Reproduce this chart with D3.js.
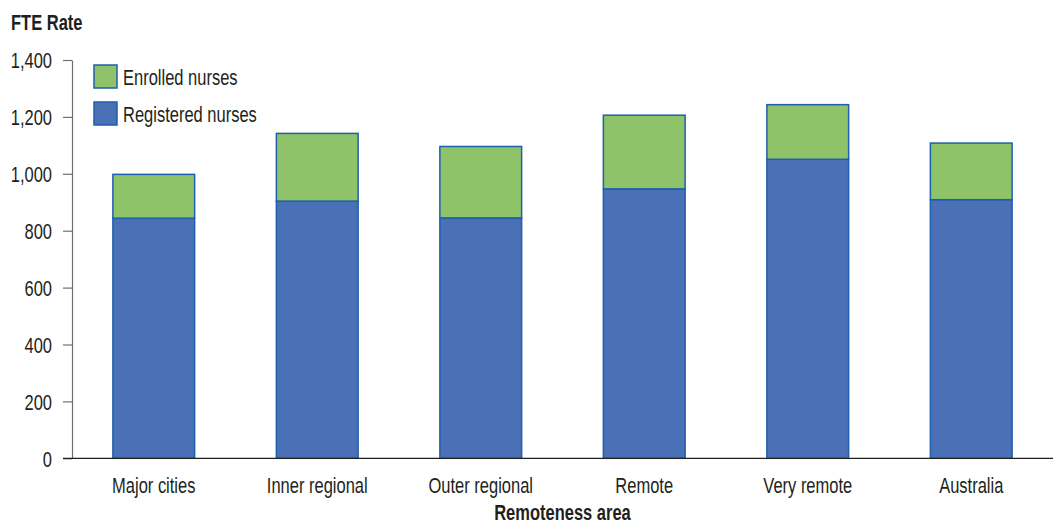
<!DOCTYPE html>
<html>
<head>
<meta charset="utf-8">
<script src="https://cdn.jsdelivr.net/npm/d3@7"></script>
<style>
  html, body { margin: 0; padding: 0; background: #fff; }
  svg { display: block; }
  text { font-family: "Liberation Sans", Arial, sans-serif; fill: #231f20; }
</style>
</head>
<body>
<svg id="chart" width="1053" height="525"></svg>
<script>
// FTE rate of nurses by remoteness area
const categories = ["Major cities", "Inner regional", "Outer regional", "Remote", "Very remote", "Australia"];
const registered = [844, 904, 845, 947, 1051, 909];
const enrolled   = [154, 238, 251, 259, 192, 199];
const seriesNames = ["Registered nurses", "Enrolled nurses"];
const yTicks = [0, 200, 400, 600, 800, 1000, 1200, 1400];

const colors = { "Registered nurses": "#4a70b6", "Enrolled nurses": "#8fc36a" };
const strokeColor = "#1f5fae";

// Narrow type: regular face squeezed horizontally
const SX = 0.75;
const FS = "22px";
function narrow(sel) {
  sel.each(function () {
    const t = d3.select(this);
    const x0 = +(t.attr("x") || 0);
    t.attr("x", x0 / SX)
     .attr("transform", `scale(${SX},1)`)
     .style("font-size", FS);
  });
}

const svg = d3.select("#chart");
const margin = { left: 72, right: 0, top: 60, bottom: 67 };
const width = 1053, height = 525;

const rows = categories.map((c, i) => ({
  category: c,
  "Registered nurses": registered[i],
  "Enrolled nurses": enrolled[i]
}));
const stacked = d3.stack().keys(seriesNames)(rows);

const x = d3.scaleBand()
  .domain(categories)
  .range([margin.left, width - margin.right])
  .paddingInner(0.5)
  .paddingOuter(0.25);

const y = d3.scaleLinear()
  .domain([0, 1400])
  .range([height - margin.bottom + 0.3, margin.top]);

// Bars
svg.append("g").selectAll("g")
  .data(stacked)
  .join("g")
  .attr("fill", d => colors[d.key])
  .selectAll("rect")
  .data(d => d)
  .join("rect")
  .attr("x", d => x(d.data.category))
  .attr("width", x.bandwidth())
  .attr("y", d => y(d[1]))
  .attr("height", d => y(d[0]) - y(d[1]))
  .attr("stroke", strokeColor)
  .attr("stroke-width", 1.5);

// Y axis
const yAxis = svg.append("g")
  .attr("transform", `translate(${margin.left},0)`)
  .call(d3.axisLeft(y).tickValues(yTicks).tickFormat(d3.format(",")).tickSize(9).tickPadding(11).tickSizeOuter(0));
yAxis.select(".domain").attr("stroke", "#6d6e71").attr("stroke-width", 1.2);
yAxis.selectAll(".tick line").attr("stroke", "#6d6e71").attr("stroke-width", 1.2);
yAxis.selectAll(".tick text").attr("fill", "#231f20").attr("dy", "0.35em").call(narrow);

// X axis
const xAxis = svg.append("g")
  .attr("transform", `translate(0,${y(0)})`)
  .call(d3.axisBottom(x).tickSize(0).tickPadding(19));
xAxis.select(".domain").attr("stroke", "#231f20").attr("stroke-width", 1.3)
  .attr("d", `M${63},0H${width}`);
xAxis.selectAll(".tick text").attr("fill", "#231f20").call(narrow);

// Axis titles
svg.append("g").attr("transform", "translate(11,29.5)")
  .append("text")
  .style("font-weight", "bold")
  .text("FTE Rate")
  .call(narrow);

svg.append("g").attr("transform", `translate(${(margin.left + width) / 2},520)`)
  .append("text")
  .attr("text-anchor", "middle")
  .style("font-weight", "bold")
  .text("Remoteness area")
  .call(narrow);

// Legend
const legendItems = ["Enrolled nurses", "Registered nurses"];
const legend = svg.append("g").attr("transform", "translate(94,65)");
legendItems.forEach((name, i) => {
  const g = legend.append("g").attr("transform", `translate(0,${i * 37})`);
  g.append("rect")
    .attr("width", 23).attr("height", 23)
    .attr("fill", colors[name])
    .attr("stroke", strokeColor).attr("stroke-width", 1.5);
  g.append("g").attr("transform", "translate(29,19.5)")
    .append("text")
    .text(name)
    .call(narrow);
});
</script>
</body>
</html>
